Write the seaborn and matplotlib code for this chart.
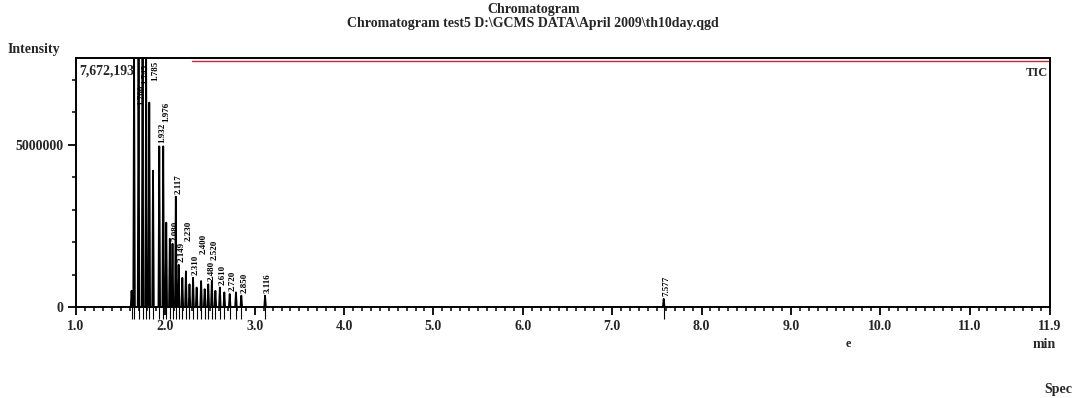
import matplotlib
matplotlib.use("Agg")
import matplotlib.pyplot as plt
import matplotlib.transforms as mtransforms
from matplotlib.ticker import MultipleLocator, FixedLocator
import pandas as pd
import seaborn as sns

# Peak table: retention time (min) and apex intensity (counts)
peak_rt = [1.622, 1.650, 1.700, 1.745, 1.785, 1.820, 1.862, 1.932, 1.976, 2.010,
           2.050, 2.080, 2.117, 2.149, 2.190, 2.230, 2.270, 2.310, 2.350, 2.400,
           2.440, 2.480, 2.520, 2.560, 2.610, 2.660, 2.720, 2.790, 2.850, 3.116,
           7.577]
peak_height = [500000, 7672193, 7672193, 7672193, 7672193, 6300000, 4200000, 4950000,
               4950000, 2600000, 2100000, 1950000, 3400000, 1300000, 900000,
               1100000, 700000, 900000, 600000, 800000, 550000, 700000, 800000,
               500000, 600000, 450000, 400000, 450000, 350000, 350000, 250000]
# Peaks that carry a retention-time label
labelled_rt = [1.700, 1.745, 1.785, 1.932, 1.976, 2.080, 2.117, 2.149, 2.230, 2.310,
               2.400, 2.480, 2.520, 2.610, 2.720, 2.850, 3.116, 7.577]

x_ticks = [1.0, 2.0, 3.0, 4.0, 5.0, 6.0, 7.0, 8.0, 9.0, 10.0, 11.0, 11.9]
x_tick_labels = ["1.0", "2.0", "3.0", "4.0", "5.0", "6.0", "7.0", "8.0", "9.0",
                 "10.0", "11.0", "11.9"]
y_ticks = [0, 5000000]
y_tick_labels = ["0", "5000000"]
y_max = 7672193
x_min, x_max = 1.0, 11.9

title_lines = ["Chromatogram",
               "Chromatogram test5 D:\\GCMS DATA\\April 2009\\th10day.qgd"]

# Build the TIC trace as narrow triangular peaks on a flat baseline
half_w = 0.009
t_pts, i_pts = [x_min], [0.0]
for rt, h in zip(peak_rt, peak_height):
    t_pts += [rt - half_w, rt, rt + half_w]
    i_pts += [0.0, h, 0.0]
t_pts.append(x_max)
i_pts.append(0.0)
trace = pd.DataFrame({"time": t_pts, "intensity": i_pts})

sns.set_theme(style="white")
plt.rcParams["font.family"] = ["Liberation Serif", "DejaVu Serif"]
plt.rcParams["font.weight"] = "bold"

fig = plt.figure(figsize=(10.76, 3.98), dpi=100)
ax = fig.add_axes([76 / 1076, 1 - 307 / 398, (1050 - 76) / 1076, (307 - 58) / 398])

sns.lineplot(data=trace, x="time", y="intensity", ax=ax, sort=False,
             estimator=None, color="black", linewidth=1.3)

ax.set_xlim(x_min, x_max)
ax.set_ylim(0, y_max)
ax.set_xlabel("")
ax.set_ylabel("")

for side in ["left", "right", "top", "bottom"]:
    ax.spines[side].set_visible(True)
    ax.spines[side].set_color("black")
    ax.spines[side].set_linewidth(1.4)

ax.xaxis.set_major_locator(FixedLocator(x_ticks))
ax.set_xticklabels(x_tick_labels)
ax.xaxis.set_minor_locator(MultipleLocator(0.1))
ax.yaxis.set_major_locator(FixedLocator(y_ticks))
ax.set_yticklabels(y_tick_labels)
ax.yaxis.set_minor_locator(MultipleLocator(1000000))
ax.tick_params(axis="both", which="major", direction="out", length=6, width=1.3,
               color="black", labelsize=10, pad=3)
ax.tick_params(axis="both", which="minor", direction="out", length=3, width=1.1,
               color="black")
ax.tick_params(axis="x", bottom=True, which="both")
ax.tick_params(axis="y", left=True, which="both")
for lab in ax.get_xticklabels() + ax.get_yticklabels():
    lab.set_fontweight("bold")

# Peak marks under the baseline
ax.vlines(peak_rt, -0.05 * y_max, 0, color="black", linewidth=0.8, clip_on=False)

# Retention-time labels, written vertically above each peak; each label is
# pushed up (or, near the top frame, to the right) until it clears the others
fig.canvas.draw()
renderer = fig.canvas.get_renderer()
rt_to_h = dict(zip(peak_rt, peak_height))
placed = []
top_px = ax.transData.transform((0, y_max))[1]
for rt in labelled_rt:
    h = rt_to_h[min(peak_rt, key=lambda p: abs(p - rt))]
    x_px, y_px = ax.transData.transform((rt, min(h, 0.8 * y_max)))
    x_px += 3
    y_px += 3
    txt = ax.text(0, 0, f"{rt:.3f}", rotation=90, fontsize=6.5, fontweight="bold",
                  ha="center", va="bottom", color="black", transform=None)
    while True:
        txt.set_position((x_px, y_px))
        bb = txt.get_window_extent(renderer).expanded(1.02, 1.0)
        if not any(bb.overlaps(o) for o in placed):
            break
        if bb.y1 + 3 < top_px - 2:
            y_px += 3
        else:
            x_px += 2
    placed.append(txt.get_window_extent(renderer))

# Coloured registration line just inside the top frame
blend = mtransforms.blended_transform_factory(ax.transData, ax.transAxes)
ax.plot([2.3, x_max - 0.02], [0.986, 0.986], transform=blend, color="#e02030",
        linewidth=1.0, clip_on=False, zorder=5)

ax.text(0.003, 0.975, f"{y_max:,}", transform=ax.transAxes, fontsize=10,
        fontweight="bold", ha="left", va="top")
ax.text(0.998, 0.965, "TIC", transform=ax.transAxes, fontsize=9,
        fontweight="bold", ha="right", va="top")

fig.text(534 / 1076, 1 - 10 / 398, title_lines[0], fontsize=10, fontweight="bold",
         ha="center", va="center")
fig.text(533 / 1076, 1 - 24 / 398, title_lines[1], fontsize=10, fontweight="bold",
         ha="center", va="center")
fig.text(8 / 1076, 1 - 50 / 398, "Intensity", fontsize=10, fontweight="bold",
         ha="left", va="center")
fig.text(1056 / 1076, 1 - 344 / 398, "min", fontsize=10, fontweight="bold",
         ha="right", va="center")
fig.text(848 / 1076, 1 - 344 / 398, "e", fontsize=9, fontweight="bold",
         ha="center", va="center")
fig.text(1072 / 1076, 1 - 390 / 398, "Spec", fontsize=10, fontweight="bold",
         ha="right", va="center")

fig.savefig("out.png", dpi=100, facecolor="white")
